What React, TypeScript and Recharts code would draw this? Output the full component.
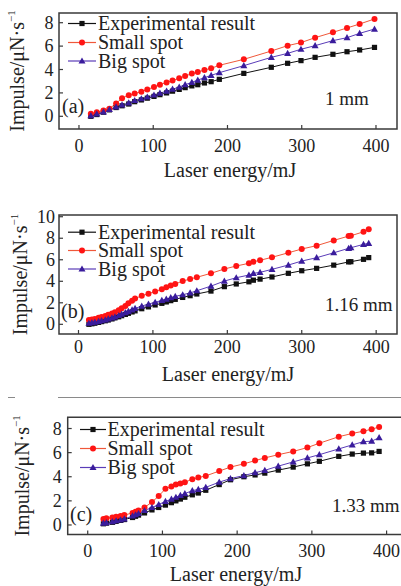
import React from 'react';
import { LineChart, Line, XAxis, YAxis, ReferenceArea, Legend } from 'recharts';

const FONT = '"Liberation Serif", "Times New Roman", serif';
const TXT = '#222';

const seriesNames = ['Experimental result', 'Small spot', 'Big spot'];
const xTicks = [0, 100, 200, 300, 400];
const yTicksA = [0, 2, 4, 6, 8];
const yTicksB = [0, 2, 4, 6, 8, 10];
const yTicksC = [0, 2, 4, 6, 8];
const panelTags = ['(a)', '(b)', '(c)'];
const diameters = ['1 mm', '1.16 mm', '1.33 mm'];

// Panel (a) – 1 mm
const energyA = [16, 24, 33, 41, 50, 58, 67, 75, 84, 92, 101, 109, 118, 126, 135, 143, 152, 160, 169, 178, 189, 222, 259, 281, 299, 318, 342, 361, 378, 398];
const expA = [0.0, 0.15, 0.35, 0.55, 0.75, 0.9, 1.05, 1.25, 1.4, 1.55, 1.7, 1.85, 2.0, 2.15, 2.3, 2.45, 2.6, 2.7, 2.85, 2.96, 3.16, 3.67, 4.19, 4.53, 4.76, 5.04, 5.3, 5.52, 5.67, 5.89];
const smallA = [0.22, 0.35, 0.5, 0.65, 1.1, 1.55, 1.8, 1.95, 2.1, 2.3, 2.5, 2.7, 2.9, 3.05, 3.25, 3.44, 3.65, 3.78, 3.96, 4.1, 4.36, 4.87, 5.58, 6.04, 6.3, 6.72, 7.18, 7.55, 7.89, 8.32];
const bigA = [0.05, 0.2, 0.38, 0.58, 0.8, 0.98, 1.15, 1.35, 1.5, 1.65, 1.82, 1.98, 2.15, 2.32, 2.5, 2.7, 2.9, 3.1, 3.3, 3.5, 3.73, 4.33, 5.04, 5.38, 5.73, 6.04, 6.47, 6.72, 7.09, 7.46];

// Panel (b) – 1.16 mm
const energyB = [14, 18, 22, 27, 31, 36, 40, 45, 49, 54, 58, 63, 67, 72, 76, 85, 94, 103, 112, 118, 124, 130, 140, 150, 159, 178, 196, 212, 229, 235, 244, 260, 282, 300, 320, 343, 363, 366, 383, 390];
const expB = [0.0, 0.05, 0.1, 0.18, 0.25, 0.33, 0.4, 0.5, 0.6, 0.7, 0.8, 0.92, 1.02, 1.15, 1.25, 1.45, 1.62, 1.8, 1.95, 2.08, 2.2, 2.32, 2.5, 2.66, 2.82, 3.09, 3.5, 3.75, 3.95, 4.1, 4.2, 4.4, 4.74, 4.98, 5.2, 5.5, 5.8, 5.82, 6.04, 6.2];
const smallB = [0.4, 0.45, 0.5, 0.6, 0.68, 0.78, 0.88, 1.0, 1.12, 1.3, 1.5, 1.7, 1.95, 2.2, 2.4, 2.65, 2.85, 3.05, 3.25, 3.45, 3.6, 3.75, 4.02, 4.21, 4.37, 4.74, 5.14, 5.42, 5.67, 5.82, 5.95, 6.23, 6.65, 7.0, 7.31, 7.8, 8.2, 8.23, 8.6, 8.83];
const bigB = [0.1, 0.15, 0.2, 0.28, 0.35, 0.42, 0.5, 0.6, 0.7, 0.82, 0.95, 1.08, 1.2, 1.35, 1.48, 1.7, 1.88, 2.05, 2.22, 2.35, 2.48, 2.6, 2.75, 2.92, 3.12, 3.55, 4.02, 4.33, 4.58, 4.74, 4.83, 5.11, 5.51, 5.88, 6.19, 6.65, 7.06, 7.12, 7.43, 7.53];

// Panel (c) – 1.33 mm
const energyC = [21, 25, 33, 38, 44, 49, 60, 64, 68, 76, 86, 95, 104, 112, 118, 124, 130, 140, 148, 158, 176, 191, 209, 224, 237, 255, 275, 294, 310, 336, 354, 369, 380, 390];
const expC = [0.1, 0.15, 0.22, 0.3, 0.38, 0.45, 0.62, 0.72, 0.82, 1.0, 1.25, 1.45, 1.65, 1.85, 2.0, 2.15, 2.3, 2.5, 2.65, 2.88, 3.35, 3.75, 4.0, 4.15, 4.3, 4.55, 4.8, 5.07, 5.28, 5.69, 5.88, 5.96, 5.98, 6.1];
const smallC = [0.5, 0.55, 0.62, 0.68, 0.75, 0.82, 1.0, 1.1, 1.2, 1.45, 1.9, 2.4, 3.0, 3.2, 3.35, 3.45, 3.55, 3.79, 3.93, 4.07, 4.47, 4.8, 5.07, 5.34, 5.56, 5.83, 6.1, 6.42, 6.78, 7.32, 7.59, 7.78, 7.94, 8.13];
const bigC = [0.15, 0.2, 0.28, 0.35, 0.42, 0.5, 0.75, 0.85, 0.95, 1.2, 1.45, 1.7, 1.95, 2.15, 2.3, 2.45, 2.6, 2.85, 2.95, 3.12, 3.55, 3.85, 4.1, 4.34, 4.53, 4.88, 5.23, 5.56, 5.83, 6.31, 6.64, 6.91, 6.95, 7.24];

const BLACK = '#111111';
const RED_LINE = '#f0583a';
const RED_DOT = '#ff1414';
const PUR_LINE = '#5a3cb8';
const PUR_DOT = '#3a1c9c';
const AXIS = '#3a3a3a';

const squareDot = (p: any) => {
  if (p.cx == null || p.cy == null) return <g key={`s${p.index}`} />;
  return <rect key={`s${p.index}`} x={p.cx - 2.6} y={p.cy - 2.6} width={5.2} height={5.2} fill={BLACK} />;
};
const circleDot = (p: any) => {
  if (p.cx == null || p.cy == null) return <g key={`c${p.index}`} />;
  return <circle key={`c${p.index}`} cx={p.cx} cy={p.cy} r={3} fill={RED_DOT} />;
};
const triDot = (p: any) => {
  if (p.cx == null || p.cy == null) return <g key={`t${p.index}`} />;
  const { cx, cy } = p;
  return <polygon key={`t${p.index}`} points={`${cx},${cy - 3.6} ${cx - 3.5},${cy + 2.6} ${cx + 3.5},${cy + 2.6}`} fill={PUR_DOT} />;
};

const legendMarks = [
  { line: BLACK, draw: (x: number, y: number) => <rect x={x - 2.6} y={y - 2.6} width={5.2} height={5.2} fill={BLACK} /> },
  { line: RED_LINE, draw: (x: number, y: number) => <circle cx={x} cy={y} r={3} fill={RED_DOT} /> },
  { line: PUR_LINE, draw: (x: number, y: number) => <polygon points={`${x},${y - 3.6} ${x - 3.5},${y + 2.6} ${x + 3.5},${y + 2.6}`} fill={PUR_DOT} /> },
];

type Cfg = {
  energy: number[]; exp: number[]; small: number[]; big: number[];
  yTicks: number[]; tag: string; dia: string;
  top: number; width: number; height: number; mt: number; mr: number;
  yAxisW: number; xAxisH: number; xDomain: [number, number]; yDomain: [number, number];
  xTickGap: number; yTickMargin: number; yTitleX: number; xTitleCx: number; xTitleBase: number;
  legX1: number; legX2: number; legText: number; legBase: number[];
  tagX: number; tagBase: number; diaX: number; diaBase: number;
};

const panels: Cfg[] = [
  {
    energy: energyA, exp: expA, small: smallA, big: bigA, yTicks: yTicksA, tag: panelTags[0], dia: diameters[0],
    top: 0, width: 401, height: 190, mt: 13, mr: 4, yAxisW: 59, xAxisH: 61,
    xDomain: [-26.9, 428.3], yDomain: [-1.085, 8.83],
    xTickGap: 22.7, yTickMargin: 9.5, yTitleX: 24, xTitleCx: 230, xTitleBase: 176.5,
    legX1: 68, legX2: 96, legText: 98, legBase: [30, 49, 67.5],
    tagX: 62, tagBase: 113, diaX: 325, diaBase: 105,
  },
  {
    energy: energyB, exp: expB, small: smallB, big: bigB, yTicks: yTicksB, tag: panelTags[1], dia: diameters[1],
    top: 190, width: 401, height: 200, mt: 25, mr: 4, yAxisW: 59, xAxisH: 56,
    xDomain: [-26.2, 428], yDomain: [-0.9, 10.16],
    xTickGap: 19.3, yTickMargin: 8, yTitleX: 26.5, xTitleCx: 228, xTitleBase: 191,
    legX1: 68, legX2: 96, legText: 98, legBase: [48.7, 67, 85.5],
    tagX: 61, tagBase: 128, diaX: 325, diaBase: 121,
  },
  {
    energy: energyC, exp: expC, small: smallC, big: bigC, yTicks: yTicksC, tag: panelTags[2], dia: diameters[2],
    top: 390, width: 420, height: 196, mt: 27.3, mr: 11, yAxisW: 67.7, xAxisH: 51.5,
    xDomain: [-26.8, 430], yDomain: [-0.79, 8.93],
    xTickGap: 22.2, yTickMargin: 10, yTitleX: 29.5, xTitleCx: 236, xTitleBase: 191,
    legX1: 80, legX2: 106, legText: 107.5, legBase: [46, 65, 84],
    tagX: 70, tagBase: 131, diaX: 332, diaBase: 121.5,
  },
];

function Panel({ c }: { c: Cfg }) {
  const data = c.energy.map((e, i) => ({ e, exp: c.exp[i], small: c.small[i], big: c.big[i] }));
  const plotTop = c.mt;
  const plotBottom = c.height - c.xAxisH;
  const cy = (plotTop + plotBottom) / 2;

  const xTick = (p: any) => (
    <text key={`xt${p.index}`} x={p.x} y={p.y} textAnchor="middle" style={{ fontFamily: FONT }} fontSize={18} fill={TXT}>
      {p.payload.value}
    </text>
  );
  const yTick = (p: any) => (
    <text key={`yt${p.index}`} x={p.x} y={p.y} dy="0.34em" textAnchor="end" style={{ fontFamily: FONT }} fontSize={18} fill={TXT}>
      {p.payload.value}
    </text>
  );
  const xTitle = () => (
    <text x={c.xTitleCx} y={c.xTitleBase} textAnchor="middle" style={{ fontFamily: FONT }} fontSize={20} fill={TXT}>
      Laser energy/mJ
    </text>
  );
  const yTitle = () => (
    <text x={c.yTitleX} y={cy} transform={`rotate(-90 ${c.yTitleX} ${cy})`} textAnchor="middle" style={{ fontFamily: FONT }} fontSize={20} fill={TXT}>
      Impulse/μN·s<tspan fontSize={11} dy={-9}>−1</tspan>
    </text>
  );
  const legendContent = () => (
    <svg width={300} height={150} style={{ display: 'block', overflow: 'visible' }}>
      {seriesNames.map((n, i) => {
        const b = c.legBase[i];
        const my = b - 6.5;
        const mx = (c.legX1 + c.legX2) / 2;
        return (
          <g key={n}>
            <line x1={c.legX1} x2={c.legX2} y1={my} y2={my} stroke={legendMarks[i].line} strokeWidth={1.2} />
            {legendMarks[i].draw(mx, my)}
            <text x={c.legText} y={b} style={{ fontFamily: FONT }} fontSize={20} fill={TXT}>{n}</text>
          </g>
        );
      })}
    </svg>
  );

  return (
    <div style={{ position: 'absolute', left: 0, top: c.top }}>
      <LineChart width={c.width} height={c.height} data={data} margin={{ top: c.mt, right: c.mr, bottom: 0, left: 0 }}>
        <XAxis
          type="number" dataKey="e" domain={c.xDomain} ticks={xTicks} allowDataOverflow interval={0}
          axisLine={false} tickSize={-4} tickMargin={c.xTickGap + 4} height={c.xAxisH}
          tickLine={{ stroke: AXIS, strokeWidth: 1.2 }} tick={xTick} label={xTitle}
        />
        <YAxis
          type="number" domain={c.yDomain} ticks={c.yTicks} allowDataOverflow interval={0}
          axisLine={false} tickSize={-4} tickMargin={c.yTickMargin} width={c.yAxisW}
          tickLine={{ stroke: AXIS, strokeWidth: 1.2 }} tick={yTick} label={yTitle}
        />
        <ReferenceArea
          x1={c.xDomain[0]} x2={c.xDomain[1]} y1={c.yDomain[0]} y2={c.yDomain[1]}
          fill="none" stroke={AXIS} strokeWidth={1.5} ifOverflow="visible"
        />
        <Legend
          layout="horizontal" verticalAlign="middle" align="center"
          wrapperStyle={{ left: 0, top: 0, width: 300, height: 150 }}
          content={legendContent}
        />
        <Line dataKey="exp" name={seriesNames[0]} stroke={BLACK} strokeWidth={1} dot={squareDot} activeDot={false} isAnimationActive={false} />
        <Line dataKey="small" name={seriesNames[1]} stroke={RED_LINE} strokeWidth={1} dot={circleDot} activeDot={false} isAnimationActive={false} />
        <Line dataKey="big" name={seriesNames[2]} stroke={PUR_LINE} strokeWidth={1} dot={triDot} activeDot={false} isAnimationActive={false} />
      </LineChart>
      <svg width={c.width} height={c.height} style={{ position: 'absolute', left: 0, top: 0, pointerEvents: 'none' }}>
        <text x={c.tagX} y={c.tagBase} style={{ fontFamily: FONT }} fontSize={20} fill={TXT}>{c.tag}</text>
        <text x={c.diaX} y={c.diaBase} style={{ fontFamily: FONT }} fontSize={19} fill={TXT}>{c.dia}</text>
      </svg>
    </div>
  );
}

export default function App() {
  return (
    <div style={{ position: 'absolute', left: 0, top: 0, width: 401, height: 586, overflow: 'hidden', background: '#fff' }}>
      {panels.map((c, i) => <Panel key={i} c={c} />)}
      <div style={{ position: 'absolute', left: 58, top: 397, width: 343, height: 1, background: '#8a8a8a' }} />
      <div style={{ position: 'absolute', left: 8, top: 397, width: 7, height: 1, background: '#8a8a8a' }} />
    </div>
  );
}
